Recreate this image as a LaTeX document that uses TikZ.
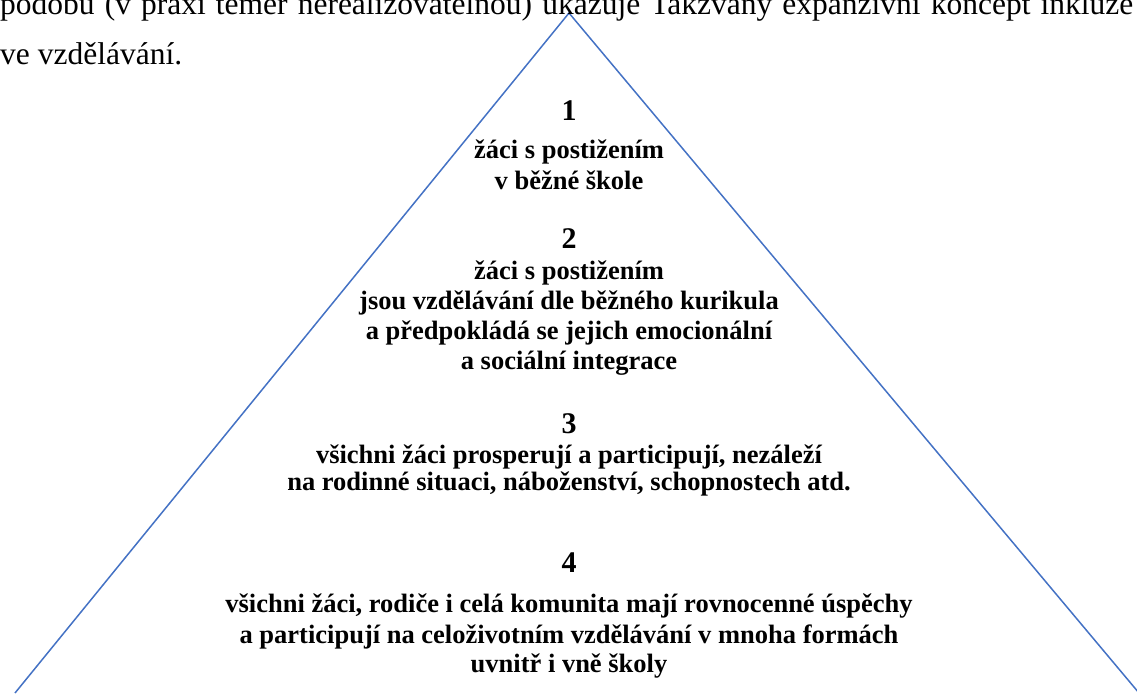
\documentclass[tikz,border=0pt]{standalone}
\usepackage{fontspec}
\setmainfont{Liberation Serif}
\definecolor{edgeblue}{HTML}{4472C4}
\tikzset{
  edge/.style={draw=edgeblue, line width=1.5pt},
  bodytext/.style={anchor=base west, inner sep=0pt, font=\fontsize{31.5}{36}\selectfont},
  num/.style={anchor=base, inner sep=0pt, font=\bfseries\fontsize{30}{34}\selectfont},
  line/.style={anchor=base, inner sep=0pt, font=\bfseries\fontsize{26.5}{30}\selectfont}
}
\begin{document}
\begin{tikzpicture}[x=1pt,y=-1pt]
\useasboundingbox (0,0) rectangle (1137,693);
\clip (0,0) rectangle (1137,693);
\coordinate (apex) at (569,13);
\coordinate (bl) at (15,693);
\coordinate (br) at (1139,693);
\draw[edge] (bl) -- (apex) -- (br);
\node[bodytext] (t1) at (0,15) {\makebox[1133pt][s]{podobu (v praxi téměř nerealizovatelnou) ukazuje Takzvaný expanzivní koncept inkluze}};
\node[bodytext] (t2) at (0,65) {ve vzdělávání.};
\node[num] (n1) at (569,120) {1};
\node[line] (a1) at (569,158) {žáci s postižením};
\node[line] (a2) at (569,189) {v běžné škole};
\node[num] (n2) at (569,248) {2};
\node[line] (b1) at (569,279) {žáci s postižením};
\node[line] (b2) at (569,309) {jsou vzdělávání dle běžného kurikula};
\node[line] (b3) at (569,339) {a předpokládá se jejich emocionální};
\node[line] (b4) at (569,369) {a sociální integrace};
\node[num] (n3) at (569,433) {3};
\node[line] (c1) at (569,463) {všichni žáci prosperují a participují, nezáleží};
\node[line] (c2) at (569,490) {na rodinné situaci, náboženství, schopnostech atd.};
\node[num] (n4) at (569,572) {4};
\node[line] (d1) at (569,612) {všichni žáci, rodiče i celá komunita mají rovnocenné úspěchy};
\node[line] (d2) at (569,643) {a participují na celoživotním vzdělávání v mnoha formách};
\node[line] (d3) at (569,672) {uvnitř i vně školy};
\end{tikzpicture}
\end{document}
